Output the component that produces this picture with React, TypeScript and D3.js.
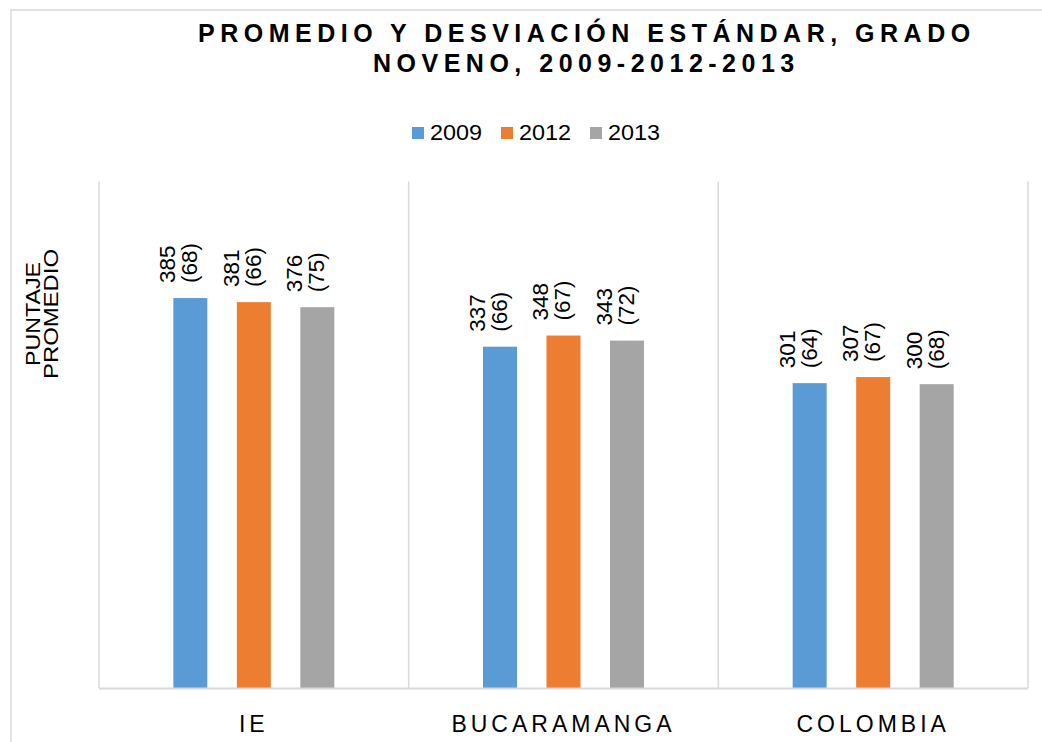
import React from "react";
import * as d3 from "d3";

const categories = ["IE", "BUCARAMANGA", "COLOMBIA"];
const seriesNames = ["2009", "2012", "2013"];
const means2009 = [385, 337, 301];
const means2012 = [381, 348, 307];
const means2013 = [376, 343, 300];
const sd2009 = [68, 66, 64];
const sd2012 = [66, 67, 67];
const sd2013 = [75, 72, 68];
const colors = ["#5B9BD5", "#ED7D31", "#A5A5A5"];
const titleLines = ["PROMEDIO Y DESVIACIÓN ESTÁNDAR, GRADO", "NOVENO, 2009-2012-2013"];
const yLabelLines = ["PUNTAJE", "PROMEDIO"];

const FONT = "'Liberation Sans', Arial, sans-serif";

export default function App() {
  const W = 1042;
  const H = 742;
  const left = 99;
  const right = 1028;
  const top = 181.6;
  const bottom = 688;

  const means = [means2009, means2012, means2013];
  const sds = [sd2009, sd2012, sd2013];

  const x0 = d3.scaleBand<string>().domain(categories).range([left, right]).padding(0);
  const x1 = d3.scalePoint<string>().domain(seriesNames).range([-63.5, 63.5]);
  const y = d3.scaleLinear().domain([0, 500]).range([bottom, top]);
  const barW = 34;
  const grid = [left, ...categories.map((c) => (x0(c) as number) + x0.bandwidth())];

  return (
    <svg
      width={W}
      height={H}
      style={{ position: "absolute", left: 0, top: 0, background: "#fff" }}
      fontFamily={FONT}
    >
      <rect x={0} y={0} width={W} height={H} fill="#fff" />
      <rect x={11} y={10} width={1200} height={900} fill="none" stroke="#D9D9D9" strokeWidth={1.5} />

      {/* title */}
      <text x={198} y={41.5} fontSize={25} fontWeight="bold" letterSpacing={5.5} fill="#000">
        {titleLines[0]}
      </text>
      <text x={373} y={72} fontSize={25} fontWeight="bold" letterSpacing={5.5} fill="#000">
        {titleLines[1]}
      </text>

      {/* legend */}
      {seriesNames.map((s, i) => (
        <g key={s} transform={`translate(${412 + i * 89},0)`}>
          <rect x={0} y={127} width={12} height={12} fill={colors[i]} />
          <text x={18} y={140} fontSize={22} fill="#000" textLength={52} lengthAdjust="spacingAndGlyphs">
            {s}
          </text>
        </g>
      ))}

      {/* y axis title */}
      {yLabelLines.map((t, i) => {
        const len = i === 0 ? 104 : 130;
        return (
          <text
            key={t}
            transform={`translate(${33 + i * 18},314) rotate(-90)`}
            x={-len / 2}
            dy="0.35em"
            fontSize={20}
            fill="#000"
            textLength={len}
            lengthAdjust="spacingAndGlyphs"
          >
            {t}
          </text>
        );
      })}

      {/* gridlines */}
      {grid.map((gx, i) => (
        <line key={i} x1={gx} x2={gx} y1={top} y2={bottom} stroke="#D9D9D9" strokeWidth={1.5} />
      ))}

      {/* bars */}
      {categories.map((c, ci) => (
        <g key={c}>
          {seriesNames.map((s, si) => {
            const cx = (x0(c) as number) + x0.bandwidth() / 2 + (x1(s) as number);
            const v = means[si][ci];
            const yt = y(v);
            return (
              <g key={s}>
                <rect x={cx - barW / 2} y={yt} width={barW} height={bottom - yt} fill={colors[si]} />
                <text
                  transform={`translate(${cx - 23},${yt - 15}) rotate(-90)`}
                  dy="0.35em"
                  fontSize={22.5}
                  fill="#000"
                >
                  {String(v)}
                </text>
                <text
                  transform={`translate(${cx - 1},${yt - 15}) rotate(-90)`}
                  dy="0.35em"
                  fontSize={22.5}
                  fill="#000"
                >
                  {`(${sds[si][ci]})`}
                </text>
              </g>
            );
          })}
        </g>
      ))}

      {/* baseline */}
      <line x1={left} x2={right} y1={bottom + 0.5} y2={bottom + 0.5} stroke="#D9D9D9" strokeWidth={2} />

      {/* category labels */}
      {categories.map((c) => (
        <text
          key={c}
          x={(x0(c) as number) + x0.bandwidth() / 2}
          y={732}
          textAnchor="middle"
          fontSize={23}
          letterSpacing={4}
          fill="#000"
        >
          {c}
        </text>
      ))}
    </svg>
  );
}
